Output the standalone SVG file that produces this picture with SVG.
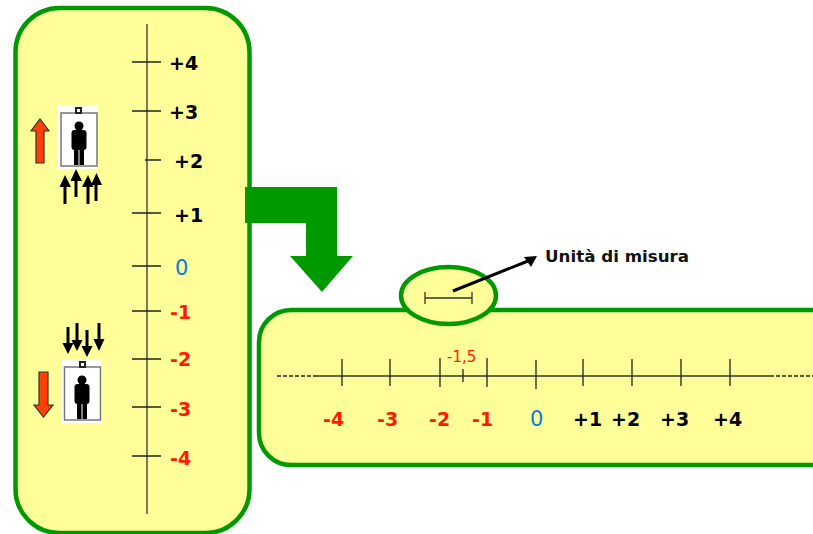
<svg xmlns="http://www.w3.org/2000/svg" width="813" height="534" viewBox="0 0 813 534">
<defs>
<style>
.panel{fill:#ffff99;stroke:#009900;stroke-width:4.5}
.axis{stroke:#333;stroke-width:1.3;fill:none}
.tick{stroke:#222;stroke-width:1.3;fill:none}
.t{font-family:"DejaVu Sans",Verdana,sans-serif;font-size:19px;font-weight:bold}
.b{fill:#000}.r{fill:#ff1a00}
.z{fill:#0a7ae0;font-weight:normal;font-size:21px}
.blk{stroke:#000;stroke-width:3;fill:none}
.ah{fill:#000}
.red{fill:#ff4000;stroke:#333;stroke-width:1.2}
.cab{stroke:#777;stroke-width:1.5}
.nub{fill:none;stroke:#222;stroke-width:2}
</style>
<g id="person"><circle cx="0" cy="-17" r="4.500"/><rect x="-7.500" y="-13" width="15" height="20" rx="3"/><rect x="-5" y="5" width="4.500" height="17"/><rect x="0.500" y="5" width="4.500" height="17"/></g>
</defs>
<g id="panel-vertical"><rect class="panel" x="15.500" y="8" width="234" height="525" rx="44"/></g>
<g id="panel-horizontal"><rect class="panel" x="259" y="310" width="600" height="155" rx="32"/></g>
<g id="unit-circle"><ellipse cx="448.500" cy="295.500" rx="47.500" ry="28.500" fill="#ffff99" stroke="#009900" stroke-width="4.500"/></g>
<g id="connectors">
<path d="M245 187H337V256H353L322 292L290 256H306V223H245Z" fill="#009900"/>
<line x1="147" y1="24" x2="147" y2="514" class="axis"/>
<g class="tick"><path d="M132 62H161M132 111H161M145 160H161M132 213H161M132 266H161M132 311H161M132 359H161M132 407H161M132 456H161"/></g>
<line x1="317" y1="376" x2="770" y2="376" class="axis"/>
<path d="M277 376H317M770 376H813" stroke="#222" stroke-width="1.500" stroke-dasharray="4 2" fill="none"/>
<g class="tick"><path d="M342 359V386M390 359V386M440 358V387M487 358V387M536 360V389M583 359V386M632 359V386M681 359V386M730 359V386M463 369V382"/></g>
<path d="M425 298H472M425 292V304M472 292V304" stroke="#333" stroke-width="1.300" fill="none"/>
<path d="M453 291L528 261" stroke="#000" stroke-width="3" fill="none"/>
<path d="M537 256L524 257L531 267Z" class="ah"/>
</g>
<g id="lift-up">
<rect x="58" y="105" width="40" height="64" fill="#fff"/>
<rect x="61" y="113" width="36" height="53" class="cab" fill="#fff"/>
<rect x="76" y="108" width="5" height="5" class="nub"/>
<use href="#person" x="79" y="143"/>
<path class="red" d="M36 163V131H31L40 119L49 131H44V163Z"/>
<path class="blk" d="M65 204V184M76 197V178M88 204V184M96 201V182"/>
<path class="ah" d="M59.500 187L65 175L71 187ZM70.500 181L76 169L82 181ZM82 187L88 175L93.500 187ZM91 185L96.500 173L102 185Z"/>
</g>
<g id="lift-down">
<rect x="62" y="359" width="40" height="64" fill="#fff"/>
<rect x="64.500" y="367" width="36" height="53" class="cab" fill="#fff"/>
<rect x="80" y="362" width="5" height="5" class="nub"/>
<use href="#person" x="82" y="397"/>
<path class="red" d="M39 372V405H34L43.500 417L53 405H48V372Z"/>
<path class="blk" d="M68 327V346M77 323V342M87 330V349M99 323V342"/>
<path class="ah" d="M62.500 343L68 354L73.500 343ZM71.500 340L77 351L82.500 340ZM81.500 346L87 357L92.500 346ZM93.500 339L99 351L104.500 339Z"/>
</g>
<g id="labels-vertical">
<text class="t b" x="169" y="70">+4</text>
<text class="t b" x="169" y="119">+3</text>
<text class="t b" x="174" y="168">+2</text>
<text class="t b" x="174" y="222">+1</text>
<text class="t z" x="175" y="275">0</text>
<text class="t r" x="170" y="319">-1</text>
<text class="t r" x="170" y="366">-2</text>
<text class="t r" x="170" y="416">-3</text>
<text class="t r" x="170" y="465">-4</text>
</g>
<g id="labels-horizontal">
<text class="t r" x="323" y="426">-4</text>
<text class="t r" x="377" y="426">-3</text>
<text class="t r" x="429" y="426">-2</text>
<text class="t r" x="472" y="426">-1</text>
<text class="t z" x="530" y="426">0</text>
<text class="t b" x="573" y="426">+1</text>
<text class="t b" x="611" y="426">+2</text>
<text class="t b" x="660" y="426">+3</text>
<text class="t b" x="713" y="426">+4</text>
<text x="447" y="362" fill="#ff1a00" font-family="DejaVu Sans, Verdana, sans-serif" font-size="15">-1,5</text>
<text x="545" y="262" fill="#111" font-family="DejaVu Sans, Verdana, sans-serif" font-size="16.700" font-weight="bold">Unità di misura</text>
</g>
</svg>
